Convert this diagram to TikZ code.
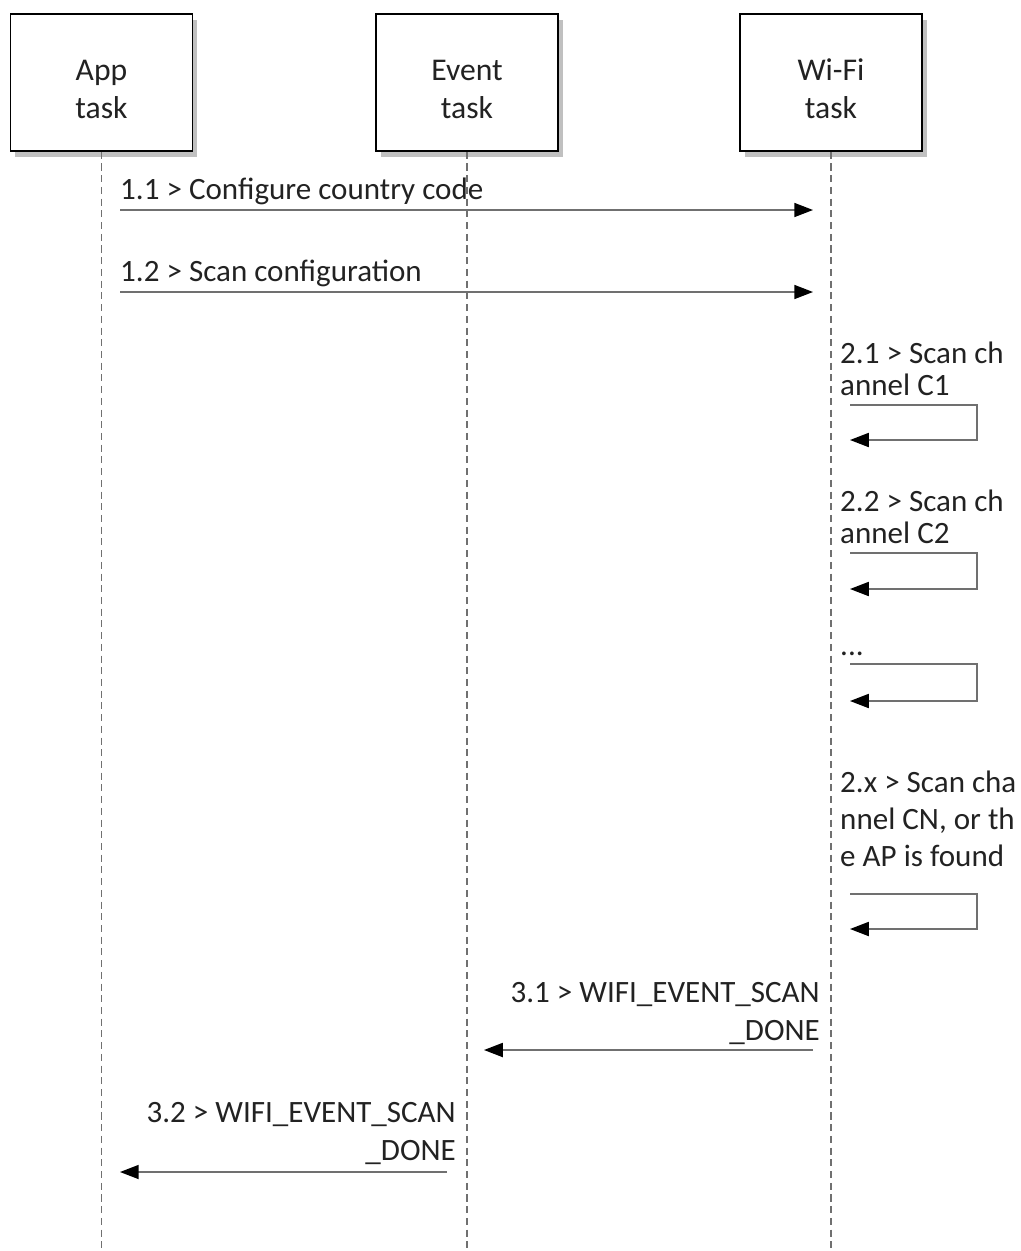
\documentclass[tikz,border=0pt]{standalone}
\usepackage{fontspec}
\setmainfont{Carlito}
\usetikzlibrary{positioning,arrows.meta,shadows}
\definecolor{lineGray}{HTML}{707070}
\definecolor{textGray}{HTML}{222222}
\newcommand{\boxlift}{\rule{0pt}{29pt}}

\begin{document}
\begin{tikzpicture}[x=0.03cm, y=-0.03cm,
  font=\fontsize{26.5}{27}\selectfont, text=textGray,
  taskbox/.style={draw=black, line width=1.3pt, fill=white, align=center,
    minimum width=5.46cm, minimum height=4.11cm, inner sep=0pt,
    font=\fontsize{27}{32}\selectfont,
    drop shadow={shadow xshift=4pt, shadow yshift=-5pt, fill=black!45, opacity=0.55}},
  lifeline/.style={draw=lineGray, line width=1pt, dash pattern=on 6pt off 4pt},
  msg/.style={draw=lineGray, line width=1.3pt,
    -{Triangle[length=16pt, width=12pt, color=black]}},
  lbl/.style={inner sep=0pt, align=left, anchor=base west},
  rlbl/.style={inner sep=0pt, align=right, anchor=base east,
    font=\fontsize{26.5}{32}\selectfont}]

  % Fondo / margenes
  \useasboundingbox (0,0) rectangle (1021,1251);

  % Tareas
  \node[taskbox] (app)   at (101.5,82.5) {\boxlift App\\task};
  \node[taskbox] (event) at (467,82.5)   {\boxlift Event\\task};
  \node[taskbox] (wifi)  at (831,82.5)   {\boxlift Wi-Fi\\task};

  % Lineas de vida
  \coordinate (appEnd)   at (101.5,1251);
  \coordinate (eventEnd) at (467,1251);
  \coordinate (wifiEnd)  at (831,1251);
  \draw[lifeline] (app.south)   -- (appEnd);
  \draw[lifeline] (event.south) -- (eventEnd);
  \draw[lifeline] (wifi.south)  -- (wifiEnd);

  % Mensajes 1.x (App -> Wi-Fi)
  \coordinate (m11a) at (120,210);  \coordinate (m11b) at (813,210);
  \coordinate (m12a) at (120,292);  \coordinate (m12b) at (813,292);
  \node[lbl] (t11) at (120,199) {1.1 > Configure country code};
  \node[lbl] (t12) at (120,281) {1.2 > Scan configuration};
  \draw[msg] (m11a) -- (m11b);
  \draw[msg] (m12a) -- (m12b);

  % Auto-mensajes 2.x (Wi-Fi), base de la ultima linea
  \node[lbl] (t21) at (840,395) {2.1 > Scan ch\\annel C1};
  \node[lbl] (t22) at (840,543) {2.2 > Scan ch\\annel C2};
  \node[lbl] (t2d) at (840,655) {...};
  \node[lbl, font=\fontsize{26.5}{31.5}\selectfont] (t2x) at (840,866)
    {2.x > Scan cha\\nnel CN, or th\\e AP is found};
  \foreach \n/\t/\b in {a/405/440, b/553/589, c/664/701, d/894/929}{
    \coordinate (s\n1) at (850,\t);
    \coordinate (s\n2) at (977,\t);
    \coordinate (s\n3) at (977,\b);
    \coordinate (s\n4) at (850,\b);
    \draw[msg] (s\n1) -- (s\n2) -- (s\n3) -- (s\n4);
  }

  % Eventos 3.x (Wi-Fi -> Event -> App)
  \coordinate (m31a) at (813,1050); \coordinate (m31b) at (484,1050);
  \coordinate (m32a) at (447,1172); \coordinate (m32b) at (120,1172);
  \node[rlbl] (t31) at (820,1040) {3.1 > WIFI\_EVENT\_SCAN\\\_DONE};
  \node[rlbl] (t32) at (456,1160) {3.2 > WIFI\_EVENT\_SCAN\\\_DONE};
  \draw[msg] (m31a) -- (m31b);
  \draw[msg] (m32a) -- (m32b);
\end{tikzpicture}
\end{document}
